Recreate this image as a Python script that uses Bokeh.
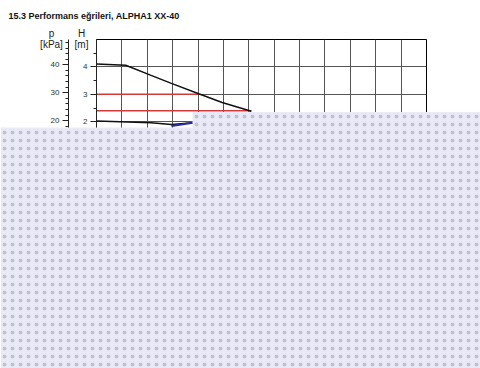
from bokeh.plotting import figure
from bokeh.models import Range1d, LinearAxis, FixedTicker, BoxAnnotation, Label, GridBox
from bokeh.embed import file_html
from bokeh.resources import INLINE

TITLE = "15.3 Performans eğrileri, ALPHA1 XX-40"

# Axes (flow Q in m3/h, head H in m, pressure p in kPa)
Q_TICKS = [0.0, 0.2, 0.4, 0.6, 0.8, 1.0, 1.2, 1.4, 1.6, 1.8, 2.0, 2.2, 2.4, 2.6]
H_TICKS = [0, 1, 2, 3, 4]
H_MINOR = [0.5, 1.5, 2.5, 3.5, 4.5]
H_GRID = [1, 2, 3, 4]
P_TICKS = [0, 10, 20, 30, 40]
P_MINOR = [2, 4, 6, 8, 12, 14, 16, 18, 22, 24, 26, 28, 32, 34, 36, 38, 42, 44, 46, 48]
Q_RANGE = [0.0, 2.6]
H_RANGE = [0.0, 5.0]
P_RANGE = [0.0, 49.05]

# Upper (max) curve
Q_MAX = [0.0, 0.23, 0.43, 0.59, 0.80, 0.99, 1.22]
H_MAX = [4.11, 4.06, 3.69, 3.40, 3.03, 2.70, 2.38]
# Lower (min) curve
Q_MIN = [0.0, 0.43, 0.59, 0.76]
H_MIN = [2.03, 1.96, 1.90, 1.96]
# Blue segment
Q_BLUE = [0.59, 0.76]
H_BLUE = [1.84, 1.96]
# Red constant-pressure lines
RED_H = [3.0, 2.4]
RED_Q_START = [0.0, 0.0]
RED_Q_END = [0.80, 1.22]

FONT = "Liberation Sans"
W, H = 480, 368

p = figure(width=W, height=H, output_backend="svg", toolbar_location=None,
           x_range=Range1d(*Q_RANGE), y_range=Range1d(*H_RANGE),
           min_border_left=96, min_border_right=54, min_border_top=39,
           min_border_bottom=192)
p.frame_align = False
p.outline_line_color = "black"
p.outline_line_width = 1
p.background_fill_color = "white"
p.border_fill_color = "white"

p.xgrid.ticker = FixedTicker(ticks=Q_TICKS)
p.ygrid.ticker = FixedTicker(ticks=H_GRID)
for g in (p.xgrid, p.ygrid):
    g.grid_line_color = "#555555"
    g.grid_line_width = 1
    g.grid_line_alpha = 1

p.xaxis.ticker = FixedTicker(ticks=Q_TICKS)
p.yaxis.ticker = FixedTicker(ticks=H_TICKS, minor_ticks=H_MINOR)
p.yaxis.axis_label = " "
p.yaxis.axis_label_standoff = 0
p.yaxis.axis_label_text_font_size = "8px"

p.extra_y_ranges = {"p": Range1d(*P_RANGE)}
paxis = LinearAxis(y_range_name="p", ticker=FixedTicker(ticks=P_TICKS, minor_ticks=P_MINOR))
p.add_layout(paxis, "left")

for ax in (p.xaxis[0], p.yaxis[0], paxis):
    ax.axis_line_color = "#222222"
    ax.major_tick_line_color = "#222222"
    ax.minor_tick_line_color = "#222222"
    ax.major_tick_out = 6
    ax.major_tick_in = 0
    ax.minor_tick_out = 3
    ax.minor_tick_in = 0
    ax.major_label_text_font = FONT
    ax.major_label_text_font_size = "8px"
    ax.major_label_text_color = "#333333"
    ax.major_label_standoff = 3

# curves
p.segment(x0=RED_Q_START, y0=RED_H, x1=RED_Q_END, y1=RED_H, line_color="#d23a3a", line_width=1.6)
p.line(Q_MAX, H_MAX, line_color="#111111", line_width=1.5)
p.line(Q_MIN, H_MIN, line_color="#111111", line_width=1.5)
p.line(Q_BLUE, H_BLUE, line_color="#2a2aa8", line_width=2)

# overlay figure: texts and the loading pattern, drawn over the whole canvas
ov = figure(width=W, height=H, output_backend="svg", toolbar_location=None,
            x_range=Range1d(0, W), y_range=Range1d(0, H),
            x_axis_location=None, y_axis_location=None, min_border=0)
ov.frame_align = False
ov.grid.visible = False
ov.outline_line_color = None
ov.background_fill_alpha = 0
ov.border_fill_alpha = 0

def lab(x, y, t, size, bold=False, align="center", color="#222222"):
    ov.add_layout(Label(x=x, y=y, x_units="canvas", y_units="canvas", text=t,
                        text_font=FONT, text_font_size=size, text_align=align,
                        text_baseline="middle", text_color=color,
                        text_font_style="bold" if bold else "normal"))

lab(8, 15, TITLE, "9px", bold=True, align="left", color="#111111")
lab(51, 33, "p", "10px")
lab(51, 44, "[kPa]", "10px")
lab(81, 33, "H", "10px")
lab(81, 44, "[m]", "10px")

for left, top in ((0, 127), (192, 111.5)):
    ov.add_layout(BoxAnnotation(left=left, right=W, top=top, bottom=H,
                                left_units="canvas", right_units="canvas",
                                top_units="canvas", bottom_units="canvas",
                                fill_color="#E9E9F7", fill_alpha=1, line_alpha=0,
                                hatch_pattern="dot", hatch_color="#7c7c88", hatch_alpha=0.35,
                                hatch_scale=8, hatch_weight=0.3, level="overlay"))

layout = GridBox(children=[(p, 0, 0), (ov, 0, 0)], width=W, height=H)

open("out.html", "w").write(file_html(layout, INLINE))
